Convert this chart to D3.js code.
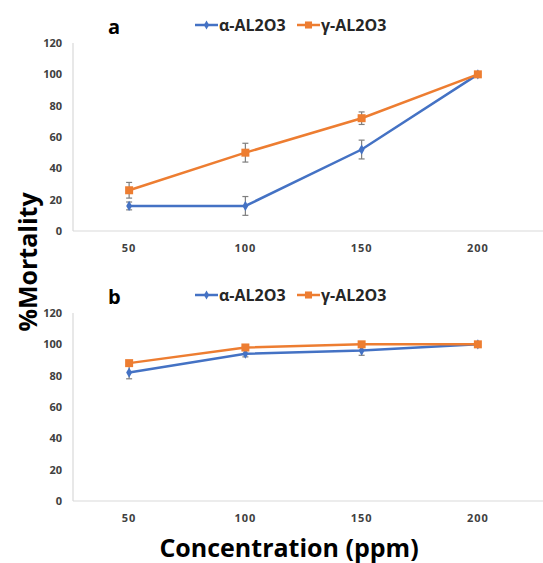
<!DOCTYPE html>
<html>
<head>
<meta charset="utf-8">
<script src="https://cdn.jsdelivr.net/npm/d3@7"></script>
<style>
  body { margin: 0; background: #fff; }
  text { font-family: "Open Sans", Lato, sans-serif; }
</style>
</head>
<body>
<svg id="chart" width="543" height="563"></svg>
<script>
const concentrations = ["50", "100", "150", "200"];
const yTicks = [0, 20, 40, 60, 80, 100, 120];
const seriesNames = ["α-AL2O3", "γ-AL2O3"];

// panel a
const alphaA = [16, 16, 52, 100];
const alphaAErr = [2.5, 6, 6, 0.5];
const gammaA = [26, 50, 72, 100];
const gammaAErr = [5, 6, 4, 0.5];

// panel b
const alphaB = [82, 94, 96, 100];
const alphaBErr = [4, 2, 3, 0.5];
const gammaB = [88, 98, 100, 100];
const gammaBErr = [1, 1, 1, 0.5];

const colors = ["#4472C4", "#ED7D31"];

const svg = d3.select("#chart");

const x = d3.scaleBand().domain(concentrations).range([71, 536]);

function drawPanel(top, label, alpha, alphaErr, gamma, gammaErr) {
  const y = d3.scaleLinear().domain([0, 120]).range([top + 188, top]);
  const g = svg.append("g").attr("class", "panel");

  // axes lines
  g.append("line")
    .attr("x1", 73).attr("x2", 543)
    .attr("y1", y(0)).attr("y2", y(0))
    .attr("stroke", "#d9d9d9").attr("stroke-width", 1.2);
  g.append("line")
    .attr("x1", 73).attr("x2", 73)
    .attr("y1", y(120)).attr("y2", y(0))
    .attr("stroke", "#d9d9d9").attr("stroke-width", 1.2);

  // y tick labels
  g.selectAll("text.ytick")
    .data(yTicks)
    .join("text")
    .attr("class", "ytick")
    .attr("x", 62)
    .attr("y", (d) => y(d))
    .attr("dy", "0.35em")
    .attr("text-anchor", "end")
    .attr("font-size", "11px")
    .attr("font-weight", "bold")
    .attr("fill", "#404040")
    .text((d) => d);

  // x tick labels
  g.selectAll("text.xtick")
    .data(concentrations)
    .join("text")
    .attr("class", "xtick")
    .attr("x", (d) => x(d) + x.bandwidth() / 2)
    .attr("y", y(0) + 21)
    .attr("text-anchor", "middle")
    .attr("font-size", "11px")
    .attr("font-weight", "bold")
    .attr("letter-spacing", "1px")
    .attr("fill", "#404040")
    .text((d) => d);

  const cx = (i) => x(concentrations[i]) + x.bandwidth() / 2;
  const line = d3.line().x((d, i) => cx(i)).y((d) => y(d));

  const series = [
    { name: seriesNames[0], values: alpha, err: alphaErr, color: colors[0], marker: "diamond" },
    { name: seriesNames[1], values: gamma, err: gammaErr, color: colors[1], marker: "square" }
  ];

  series.forEach((s) => {
    g.append("path")
      .attr("d", line(s.values))
      .attr("fill", "none")
      .attr("stroke", s.color)
      .attr("stroke-width", 2.5);

    // error bars
    const eb = g.append("g").attr("stroke", "#7f7f7f").attr("stroke-width", 1.2);
    s.values.forEach((v, i) => {
      const e = s.err[i];
      if (e < 1) return;
      eb.append("line").attr("x1", cx(i)).attr("x2", cx(i))
        .attr("y1", y(v - e)).attr("y2", y(v + e));
      eb.append("line").attr("x1", cx(i) - 3).attr("x2", cx(i) + 3)
        .attr("y1", y(v - e)).attr("y2", y(v - e));
      eb.append("line").attr("x1", cx(i) - 3).attr("x2", cx(i) + 3)
        .attr("y1", y(v + e)).attr("y2", y(v + e));
    });

    const sym = s.marker === "diamond"
      ? d3.symbol(d3.symbolDiamond, 30)
      : d3.symbol(d3.symbolSquare, 64);
    g.selectAll(null)
      .data(s.values)
      .join("path")
      .attr("transform", (d, i) => `translate(${cx(i)},${y(d)})`)
      .attr("d", sym)
      .attr("fill", s.color);
  });

  // legend
  const legendX = [195, 297];
  series.forEach((s, i) => {
    const lg = g.append("g").attr("transform", `translate(${legendX[i]},${top - 18})`);
    lg.append("line").attr("x1", 0).attr("x2", 23).attr("y1", 0).attr("y2", 0)
      .attr("stroke", s.color).attr("stroke-width", 2.5);
    lg.append("path")
      .attr("transform", "translate(11.5,0)")
      .attr("d", s.marker === "diamond" ? d3.symbol(d3.symbolDiamond, 24) : d3.symbol(d3.symbolSquare, 50))
      .attr("fill", s.color);
    lg.append("text")
      .attr("x", 24).attr("y", 0).attr("dy", "0.35em")
      .attr("font-size", "16px")
      .attr("font-weight", "bold")
      .attr("fill", "#262626")
      .text(s.name);
  });

  // panel label
  g.append("text")
    .attr("x", 108).attr("y", top - 9)
    .attr("font-size", "20px")
    .attr("font-weight", "bold")
    .attr("fill", "#000")
    .text(label);
}

drawPanel(43, "a", alphaA, alphaAErr, gammaA, gammaAErr);
drawPanel(313, "b", alphaB, alphaBErr, gammaB, gammaBErr);

// axis titles
svg.append("text")
  .attr("transform", "translate(37,262) rotate(-90)")
  .attr("text-anchor", "middle")
  .attr("font-size", "25px")
  .attr("font-weight", "bold")
  .attr("fill", "#000")
  .text("%Mortality");

svg.append("text")
  .attr("x", 289).attr("y", 557)
  .attr("text-anchor", "middle")
  .attr("font-size", "25px")
  .attr("font-weight", "bold")
  .attr("fill", "#000")
  .text("Concentration (ppm)");
</script>
</body>
</html>
